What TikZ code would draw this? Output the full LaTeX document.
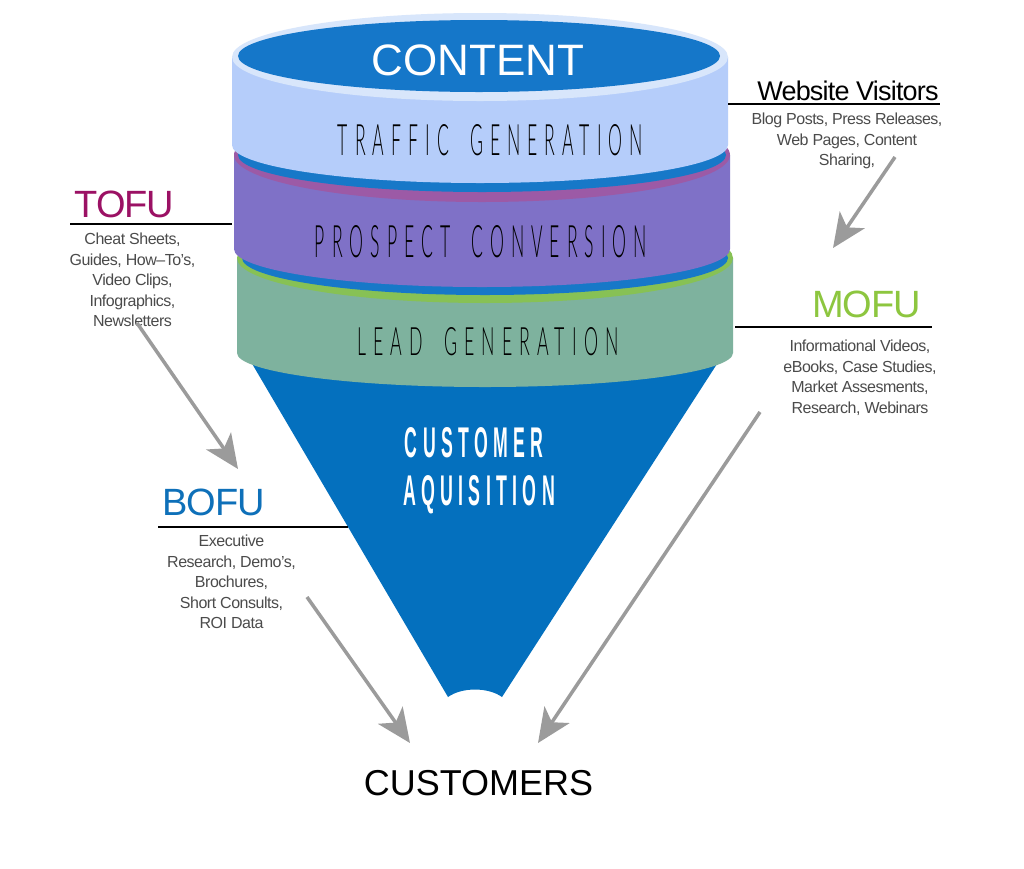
\documentclass[tikz,border=0pt]{standalone}
\usepackage{fontspec}
\usepackage{graphicx}
\setmainfont{Liberation Sans}
\newfontfamily\labfont[LetterSpace=-3]{Liberation Sans}
\IfFontExistsTF{Lato Light}{\newfontfamily\spacedfont[LetterSpace=40]{Lato Light}}{\newfontfamily\spacedfont[LetterSpace=40]{Liberation Sans}}
\newfontfamily\spacedbold[LetterSpace=30]{Liberation Sans Bold}
\usetikzlibrary{arrows.meta}
\definecolor{topblue}{RGB}{21,119,201}
\definecolor{rimlight}{RGB}{216,230,251}
\definecolor{lightband}{RGB}{181,205,250}
\definecolor{bandblue}{RGB}{23,120,200}
\definecolor{magrim}{RGB}{156,90,166}
\definecolor{purpleband}{RGB}{127,113,199}
\definecolor{greenrim}{RGB}{135,193,85}
\definecolor{greenband}{RGB}{126,178,158}
\definecolor{conecol}{RGB}{4,112,190}
\definecolor{tofucol}{RGB}{155,17,100}
\definecolor{mofucol}{RGB}{141,198,63}
\definecolor{bofucol}{RGB}{14,112,185}
\definecolor{textgray}{RGB}{75,75,75}
\definecolor{arrowgray}{RGB}{155,155,155}
\newcommand{\wgap}{\hspace{1.2em}}
\begin{document}
\begin{tikzpicture}[x=1pt,y=-1pt,
  every node/.style={inner sep=0pt, outer sep=0pt},
  bandtitle/.style={anchor=base, text=black},
  bigtag/.style={anchor=base, font=\labfont\fontsize{38}{40}\selectfont},
  bodytext/.style={anchor=north, align=center, text=textgray, font=\labfont\fontsize{16}{20.5}\selectfont},
  rule/.style={draw=black, line width=1.2pt},
  bigarrow/.style={draw=arrowgray, line width=3.5pt, -{Stealth[length=34pt, width=30pt, inset=9pt]}}
]
\useasboundingbox (0,0) rectangle (1024,868);
\fill[white] (0,0) rectangle (1024,868);

% cone
\fill[conecol] (244,350) -- (448,697) .. controls (462,687) and (488,687) .. (502,697) -- (726,350) -- cycle;

% band 3 (lead generation)
\fill[greenband] (237,258) -- (237,353) arc[start angle=180, end angle=0, x radius=248, y radius=34] -- (733,258) -- cycle;
\fill[greenrim] (485,258) ellipse[x radius=248, y radius=45];
\fill[bandblue] (485,258) ellipse[x radius=243, y radius=37];

% band 2 (prospect conversion)
\fill[purpleband] (234,155) -- (234,249) arc[start angle=180, end angle=0, x radius=248, y radius=38] -- (730,155) -- cycle;
\fill[magrim] (482,155) ellipse[x radius=248, y radius=47];
\fill[bandblue] (482,155) ellipse[x radius=244, y radius=37];

% band 1 (traffic generation)
\fill[lightband] (232,57) -- (232,145) arc[start angle=180, end angle=0, x radius=248, y radius=38] -- (728,57) -- cycle;
\fill[rimlight] (480,57) ellipse[x radius=248, y radius=44];
\fill[topblue] (479,56) ellipse[x radius=241, y radius=36];

% funnel texts
\node[anchor=base, text=white, font=\fontsize{44}{48}\selectfont] (content) at (478,75) {CONTENT};
\node[bandtitle] (traffic) at (490.5,155) {\resizebox{305pt}{31pt}{\spacedfont TRAFFIC\wgap GENERATION}};
\node[bandtitle] (prospect) at (481,257) {\resizebox{332pt}{32pt}{\spacedfont PROSPECT\wgap CONVERSION}};
\node[bandtitle] (lead) at (488,355) {\resizebox{261pt}{28pt}{\spacedfont LEAD\wgap GENERATION}};
\node[anchor=base, text=white] (cust1) at (474,457) {\resizebox{138pt}{30pt}{\spacedbold CUSTOMER}};
\node[anchor=base, text=white] (cust2) at (479,505) {\resizebox{152pt}{30pt}{\spacedbold AQUISITION}};

% labels
\node[anchor=base, text=black, font=\labfont\fontsize{27}{30}\selectfont] (wv) at (848,100) {Website Visitors};
\node[bodytext] (wvtext) at (847,113) {Blog Posts, Press Releases,\\Web Pages, Content\\Sharing,};

\node[bigtag, text=tofucol] (tofu) at (124.5,217) {TOFU};
\node[bodytext] (toftext) at (132.5,233) {Cheat Sheets,\\Guides, How–To’s,\\Video Clips,\\Infographics,\\Newsletters};

\node[bigtag, text=mofucol] (mofu) at (866.5,317) {MOFU};
\node[bodytext] (moftext) at (860,340) {Informational Videos,\\eBooks, Case Studies,\\Market Assesments,\\Research, Webinars};

\node[bigtag, text=bofucol] (bofu) at (213.5,515) {BOFU};
\node[bodytext] (boftext) at (231.5,535) {Executive\\Research, Demo’s,\\Brochures,\\Short Consults,\\ROI Data};

\node[anchor=base, text=black, font=\fontsize{36}{40}\selectfont] (customers) at (478.5,795) {CUSTOMERS};

% underline connectors
\coordinate (wvL) at (728,104);  \coordinate (wvR) at (940,104);
\coordinate (tofL) at (70,224);  \coordinate (tofR) at (232,224);
\coordinate (mofL) at (735,327); \coordinate (mofR) at (932,327);
\coordinate (bofL) at (158,527); \coordinate (bofR) at (348,527);
\draw[rule] (wvL) -- (wvR);
\draw[rule] (tofL) -- (tofR);
\draw[rule] (mofL) -- (mofR);
\draw[rule] (bofL) -- (bofR);

% arrows
\coordinate (a1s) at (895,157); \coordinate (a1e) at (833,248);
\coordinate (a2s) at (137,323); \coordinate (a2e) at (238,469);
\coordinate (a3s) at (307,597); \coordinate (a3e) at (410,743);
\coordinate (a4s) at (760,412); \coordinate (a4e) at (538,743);
\draw[bigarrow] (a1s) -- (a1e);
\draw[bigarrow] (a2s) -- (a2e);
\draw[bigarrow] (a3s) -- (a3e);
\draw[bigarrow] (a4s) -- (a4e);
\end{tikzpicture}
\end{document}
